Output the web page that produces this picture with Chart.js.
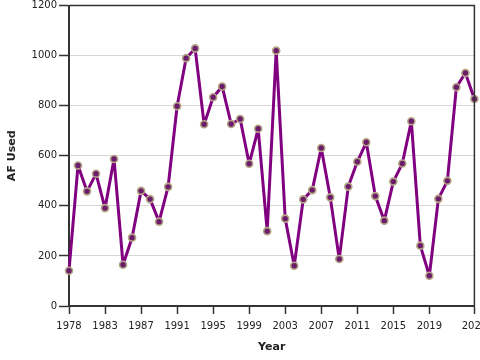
<!DOCTYPE html>
<html>
<head>
<meta charset="utf-8">
<script src="https://cdn.jsdelivr.net/npm/chart.js@4/dist/chart.umd.min.js"></script>
<style>
html,body{margin:0;padding:0;background:#fff;}
#wrap{width:480px;height:360px;position:relative;}
</style>
</head>
<body>
<div id="wrap"><canvas id="c" width="480" height="360"></canvas></div>
<script>
const years = [1978,1980,1981,1982,1983,1984,1985,1986,1987,1988,1989,1990,1991,1992,1993,1994,
  1995,1996,1997,1998,1999,2000,2001,2002,2003,2004,2005,2006,2007,2008,2009,2010,2011,2012,
  2013,2014,2015,2016,2017,2018,2019,2020,2021,2022,2023,2024];
const afUsed = [141,561,458,528,391,587,165,273,460,427,337,476,798,990,1029,726,
  834,877,727,747,568,708,299,1020,349,161,426,463,631,434,188,477,576,654,
  439,341,497,569,738,241,121,428,500,874,931,827];
const yTicks = [0,200,400,600,800,1000,1200];
const xTickEvery = 4;

const framePlugin = {
  id:'frame',
  afterDraw(chart){
    const a = chart.chartArea, ctx = chart.ctx;
    ctx.save();
    ctx.strokeStyle = '#333';
    ctx.lineWidth = 1.5;
    ctx.beginPath();
    ctx.moveTo(a.left, a.top);
    ctx.lineTo(a.right, a.top);
    ctx.lineTo(a.right, a.bottom);
    ctx.stroke();
    ctx.restore();
  }
};

new Chart(document.getElementById('c'), {
  type:'line',
  data:{
    labels: years.map(String),
    datasets:[{
      data: afUsed,
      borderColor:'#800080',
      borderWidth:3,
      borderJoinStyle:'round',
      borderCapStyle:'round',
      pointRadius:3.5,
      pointBorderWidth:1.6,
      pointBackgroundColor:'#6b1c6b',
      pointBorderColor:'#b3a585',
      tension:0,
      fill:false
    }]
  },
  options:{
    responsive:false,
    animation:false,
    layout:{padding:{top:4,right:4,left:0,bottom:0}},
    plugins:{legend:{display:false},tooltip:{enabled:false}},
    scales:{
      x:{
        type:'category',
        offset:false,
        afterFit(s){ s.height = 54; s.paddingRight = 0; s.paddingLeft = 0; },
        grid:{drawOnChartArea:false, tickLength:8, tickColor:'#333', tickWidth:1.5},
        border:{color:'#333', width:2},
        ticks:{
          autoSkip:false, maxRotation:0, minRotation:0, padding:6,
          color:'#222', font:{family:'DejaVu Sans', size:10},
          callback(v, i){
            if (i % xTickEvery === 0 || i === years.length-1) {
              if (i === years.length-2) return null;
              return String(years[i]);
            }
            return null;
          }
        },
        title:{display:true, text:'Year', color:'#222', font:{family:'DejaVu Sans', size:11, weight:'bold'}, padding:{top:2,bottom:6}}
      },
      y:{
        min:0, max:1200,
        afterFit(s){ s.width = 69; s.paddingTop = 0; s.paddingBottom = 0; },
        afterBuildTicks(s){ s.ticks = yTicks.map(v=>({value:v})); },
        grid:{color:'#d8d8d8', lineWidth:1, tickLength:10, tickColor:'#333', tickWidth:1.5},
        border:{color:'#333', width:2},
        ticks:{padding:2, color:'#222', font:{family:'DejaVu Sans', size:10}, callback(v){ return String(v); }},
        title:{display:true, text:'AF Used', color:'#222', font:{family:'DejaVu Sans', size:11, weight:'bold'}, padding:{top:6,bottom:0}}
      }
    }
  },
  plugins:[framePlugin]
});
</script>
</body>
</html>
